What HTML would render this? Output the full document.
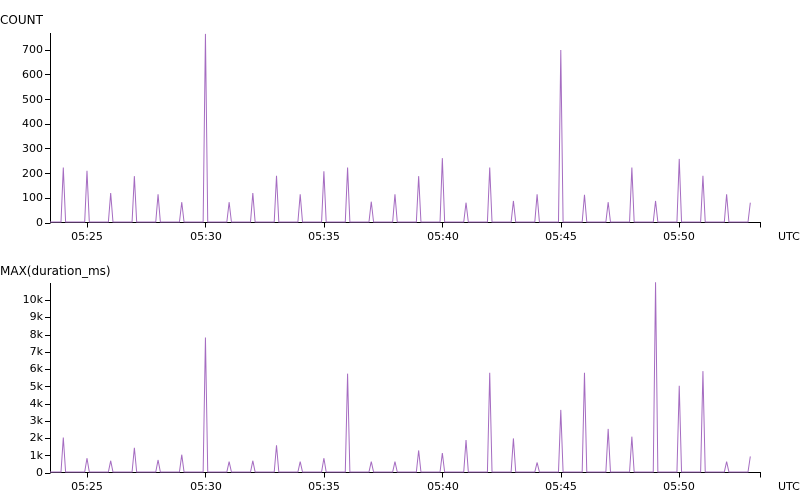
<!DOCTYPE html>
<html><head><meta charset="utf-8"><style>
html,body{margin:0;padding:0;background:#fff;}
svg{display:block;font-family:"DejaVu Sans","Liberation Sans",sans-serif;font-size:11px;fill:#000;}
</style></head><body>
<svg id="s" width="800" height="500" viewBox="0 0 800 500">
<text x="0" y="24" font-size="12">COUNT</text>
<text x="0" y="275" font-size="12">MAX(duration_ms)</text>
<text x="778" y="240">UTC</text>
<text x="778" y="490">UTC</text>
<g text-anchor="end">
<text x="43" y="226">0</text><text x="43" y="201">100</text><text x="43" y="177">200</text><text x="43" y="152">300</text><text x="43" y="127">400</text><text x="43" y="103">500</text><text x="43" y="78">600</text><text x="43" y="53">700</text>
<text x="43" y="476">0</text><text x="43" y="459">1k</text><text x="43" y="441">2k</text><text x="43" y="424">3k</text><text x="43" y="407">4k</text><text x="43" y="390">5k</text><text x="43" y="372">6k</text><text x="43" y="355">7k</text><text x="43" y="338">8k</text><text x="43" y="320">9k</text><text x="43" y="303">10k</text>
</g>
<g text-anchor="middle">
<text x="87" y="240">05:25</text><text x="206" y="240">05:30</text><text x="324" y="240">05:35</text><text x="443" y="240">05:40</text><text x="561" y="240">05:45</text><text x="679" y="240">05:50</text>
<text x="87" y="490">05:25</text><text x="206" y="490">05:30</text><text x="324" y="490">05:35</text><text x="443" y="490">05:40</text><text x="561" y="490">05:45</text><text x="679" y="490">05:50</text>
</g>
<g id="ax" stroke="#000" stroke-width="1" fill="none"></g>
<g id="ln" stroke="#a56cc1" stroke-width="1" fill="none"></g>
</svg>
<script>
var ax=document.getElementById('ax'),ln=document.getElementById('ln');
function p(d,g,extra){var e=document.createElementNS('http://www.w3.org/2000/svg','path');e.setAttribute('d',d);g.appendChild(e);}
function X(m){return 63.3+m*23.69;}
// axes
[[222.5,33,[0,100,200,300,400,500,600,700],24.7],[472.5,283,[0,1,2,3,4,5,6,7,8,9,10],17.25]].forEach(function(a){
 var z=a[0];var d='M50.5 '+a[1]+'V'+z+'H760.5V'+(z+5);
 a[2].forEach(function(v,i){var y=Math.round(z-(a[3]*(i)))+0.5;d+='M45 '+y+'H50.5';});
 for(var m=1;m<=26;m+=5){var x=Math.round(X(m))+0.5;d+='M'+x+' '+z+'V'+(z+5);}
 p(d,ax);
});
var c=[220,207,117,185,112,80,760,80,117,187,112,205,220,82,112,185,258,78,220,85,112,695,110,80,220,85,255,187,112,78];
var k=[2.0,0.8,0.65,1.4,0.7,1.0,7.8,0.6,0.65,1.55,0.6,0.8,5.7,0.6,0.6,1.25,1.1,1.85,5.75,1.95,0.55,3.6,5.75,2.5,2.05,11.0,5.0,5.85,0.6,0.9];
function series(vals,z,sc){var d='M50 '+z;for(var i=0;i<vals.length;i++){var x=X(i);d+='L'+(x-2.3)+' '+z+'L'+x+' '+(z-vals[i]*sc);if(i<vals.length-1)d+='L'+(x+2.3)+' '+z;}p(d,ln);}
series(c,222,0.2475);
series(k,472,17.25);
</script>
</body></html>
